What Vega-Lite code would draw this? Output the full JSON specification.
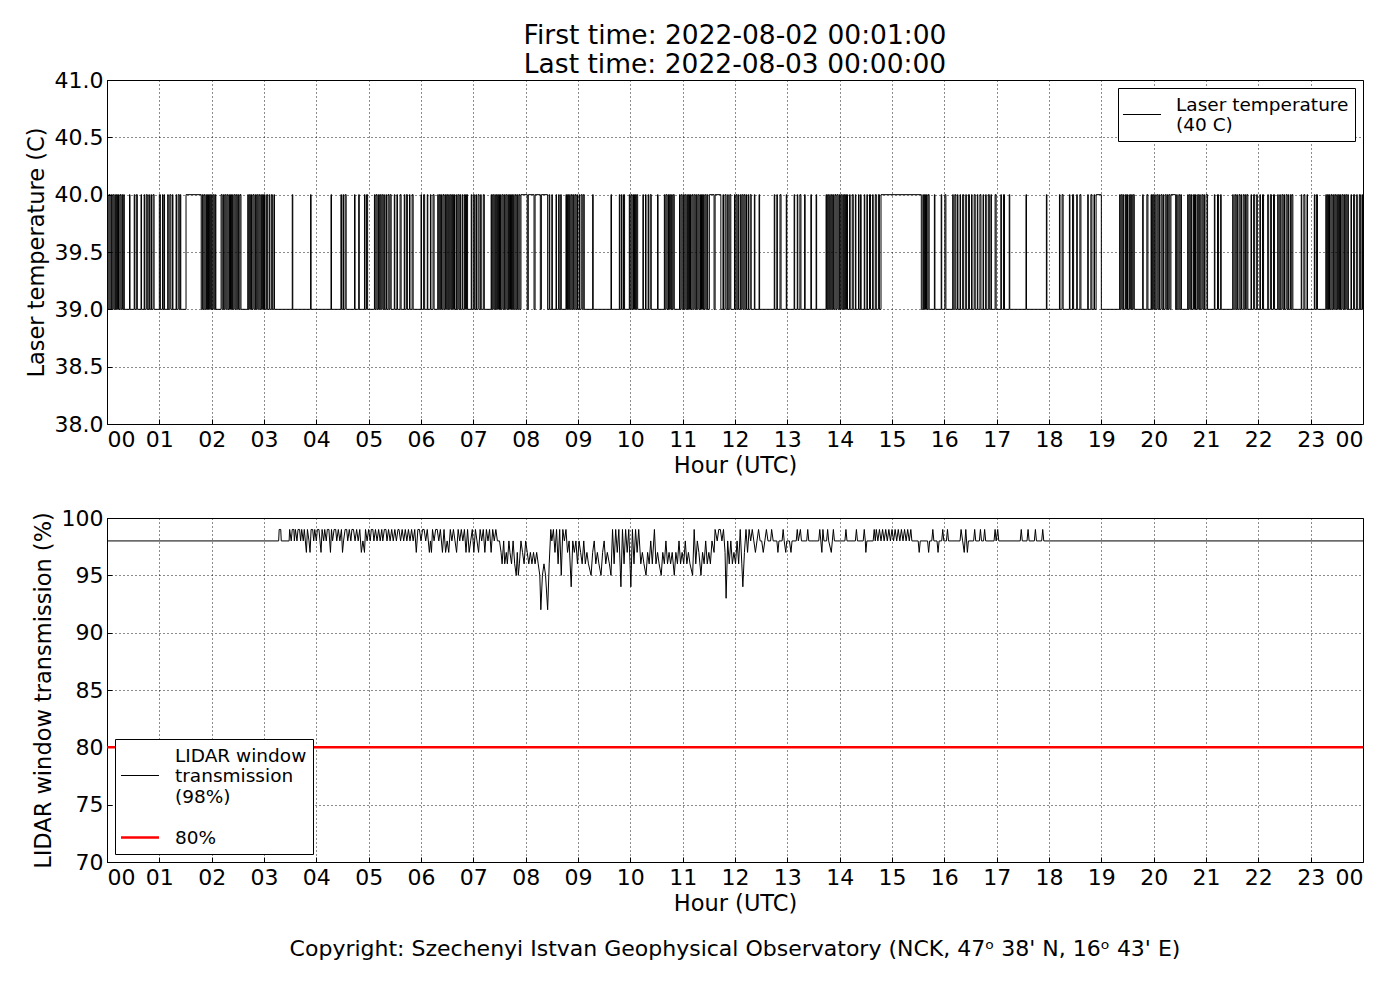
{
  "$schema": "https://vega.github.io/schema/vega-lite/v6.json",
  "background": "white",
  "padding": {"left": 24, "top": 22, "right": 38, "bottom": 20},
  "spacing": 29,
  "resolve": {
    "scale": {"color": "independent", "strokeWidth": "independent"},
    "legend": {"color": "independent", "strokeWidth": "independent"}
  },
  "config": {
    "font": "DejaVu Sans",
    "view": {"stroke": "black", "strokeWidth": 1},
    "axis": {
      "labelFont": "DejaVu Sans", "labelFontSize": 22, "labelColor": "black",
      "titleFont": "DejaVu Sans", "titleFontSize": 22.5, "titleFontWeight": "normal", "titleColor": "black",
      "domain": false, "grid": true, "gridColor": "black", "gridDash": [1, 3], "gridWidth": 1, "gridOpacity": 0.9,
      "tickColor": "black", "tickSize": -5
    },
    "axisX": {"labelPadding": 10},
    "axisY": {"labelPadding": 9},
    "legend": {
      "labelFont": "DejaVu Sans", "labelFontSize": 18.5, "labelColor": "black", "labelLimit": 0,
      "strokeColor": "black", "fillColor": "white", "padding": 6, "cornerRadius": 0,
      "symbolSize": 400, "symbolStrokeWidth": 1, "symbolOffset": 7.5, "labelOffset": 23.5,
      "offset": 8
    }
  },
  "datasets": {
    "t": [
      {"h":0,"v":39},
      {"h":0.01,"v":40},{"h":0.02,"v":39},{"h":0.04,"v":40},{"h":0.06,"v":39},{"h":0.08,"v":40},{"h":0.09,"v":39},{"h":0.11,"v":40},{"h":0.13,"v":39},{"h":0.15,"v":40},{"h":0.16,"v":39},{"h":0.18,"v":40},{"h":0.2,"v":39},{"h":0.22,"v":40},{"h":0.23,"v":39},{"h":0.25,"v":40},{"h":0.27,"v":39},{"h":0.29,"v":40},{"h":0.3,"v":39},{"h":0.32,"v":40},{"h":0.33,"v":39},
      {"h":0.43,"v":40},{"h":0.44,"v":39},{"h":0.52,"v":40},{"h":0.53,"v":39},{"h":0.56,"v":40},{"h":0.58,"v":39},{"h":0.65,"v":40},{"h":0.66,"v":39},{"h":0.71,"v":40},{"h":0.72,"v":39},{"h":0.75,"v":40},{"h":0.77,"v":39},{"h":0.8,"v":40},{"h":0.81,"v":39},{"h":0.84,"v":40},{"h":0.85,"v":39},{"h":0.88,"v":40},{"h":0.9,"v":39},
      {"h":1.0,"v":40},{"h":1.02,"v":39},{"h":1.06,"v":40},{"h":1.07,"v":39},{"h":1.09,"v":40},{"h":1.1,"v":39},{"h":1.16,"v":40},{"h":1.17,"v":39},{"h":1.2,"v":40},{"h":1.22,"v":39},{"h":1.25,"v":40},{"h":1.26,"v":39},{"h":1.32,"v":40},{"h":1.33,"v":39},{"h":1.36,"v":40},{"h":1.38,"v":39},{"h":1.4,"v":40},{"h":1.41,"v":39},
      {"h":1.51,"v":40},{"h":1.8,"v":39},
      {"h":1.82,"v":40},{"h":1.83,"v":39},{"h":1.85,"v":40},{"h":1.87,"v":39},{"h":1.89,"v":40},{"h":1.9,"v":39},{"h":1.92,"v":40},{"h":1.94,"v":39},{"h":1.96,"v":40},{"h":1.98,"v":39},{"h":2.0,"v":40},{"h":2.01,"v":39},{"h":2.03,"v":40},{"h":2.05,"v":39},{"h":2.07,"v":40},{"h":2.08,"v":39},
      {"h":2.18,"v":40},{"h":2.2,"v":39},{"h":2.22,"v":40},{"h":2.23,"v":39},{"h":2.25,"v":40},{"h":2.27,"v":39},{"h":2.29,"v":40},{"h":2.31,"v":39},{"h":2.33,"v":40},{"h":2.34,"v":39},{"h":2.36,"v":40},{"h":2.38,"v":39},{"h":2.4,"v":40},{"h":2.41,"v":39},{"h":2.43,"v":40},{"h":2.45,"v":39},{"h":2.47,"v":40},{"h":2.49,"v":39},{"h":2.51,"v":40},{"h":2.52,"v":39},{"h":2.54,"v":40},{"h":2.56,"v":39},
      {"h":2.69,"v":40},{"h":2.7,"v":39},{"h":2.72,"v":40},{"h":2.74,"v":39},{"h":2.76,"v":40},{"h":2.77,"v":39},{"h":2.79,"v":40},{"h":2.81,"v":39},{"h":2.83,"v":40},{"h":2.84,"v":39},{"h":2.86,"v":40},{"h":2.88,"v":39},{"h":2.9,"v":40},{"h":2.92,"v":39},{"h":2.94,"v":40},{"h":2.95,"v":39},{"h":2.97,"v":40},{"h":2.99,"v":39},{"h":3.01,"v":40},{"h":3.02,"v":39},{"h":3.05,"v":40},{"h":3.07,"v":39},{"h":3.1,"v":40},{"h":3.11,"v":39},{"h":3.14,"v":40},{"h":3.16,"v":39},{"h":3.19,"v":40},{"h":3.2,"v":39},
      {"h":3.54,"v":40},{"h":3.55,"v":39},{"h":3.89,"v":40},{"h":3.9,"v":39},{"h":4.28,"v":40},{"h":4.29,"v":39},{"h":4.47,"v":40},{"h":4.48,"v":39},{"h":4.51,"v":40},{"h":4.52,"v":39},{"h":4.55,"v":40},{"h":4.57,"v":39},{"h":4.73,"v":40},{"h":4.74,"v":39},{"h":4.81,"v":40},{"h":4.82,"v":39},{"h":4.92,"v":40},{"h":4.93,"v":39},{"h":4.96,"v":40},{"h":4.98,"v":39},
      {"h":5.11,"v":40},{"h":5.12,"v":39},{"h":5.14,"v":40},{"h":5.16,"v":39},{"h":5.18,"v":40},{"h":5.19,"v":39},{"h":5.21,"v":40},{"h":5.23,"v":39},{"h":5.25,"v":40},{"h":5.27,"v":39},{"h":5.29,"v":40},{"h":5.3,"v":39},{"h":5.33,"v":40},{"h":5.34,"v":39},{"h":5.37,"v":40},{"h":5.39,"v":39},{"h":5.41,"v":40},{"h":5.43,"v":39},
      {"h":5.49,"v":40},{"h":5.5,"v":39},{"h":5.54,"v":40},{"h":5.55,"v":39},{"h":5.6,"v":40},{"h":5.62,"v":39},{"h":5.68,"v":40},{"h":5.69,"v":39},{"h":5.72,"v":40},{"h":5.74,"v":39},{"h":5.78,"v":40},{"h":5.79,"v":39},{"h":5.83,"v":40},{"h":5.85,"v":39},
      {"h":6.0,"v":40},{"h":6.01,"v":39},{"h":6.05,"v":40},{"h":6.07,"v":39},{"h":6.12,"v":40},{"h":6.13,"v":39},{"h":6.18,"v":40},{"h":6.19,"v":39},{"h":6.23,"v":40},{"h":6.25,"v":39},
      {"h":6.32,"v":40},{"h":6.33,"v":39},{"h":6.35,"v":40},{"h":6.37,"v":39},{"h":6.39,"v":40},{"h":6.4,"v":39},{"h":6.42,"v":40},{"h":6.44,"v":39},{"h":6.46,"v":40},{"h":6.47,"v":39},{"h":6.49,"v":40},{"h":6.51,"v":39},{"h":6.53,"v":40},{"h":6.54,"v":39},{"h":6.56,"v":40},{"h":6.58,"v":39},{"h":6.6,"v":40},{"h":6.62,"v":39},{"h":6.64,"v":40},{"h":6.65,"v":39},{"h":6.68,"v":40},{"h":6.69,"v":39},{"h":6.71,"v":40},{"h":6.73,"v":39},{"h":6.75,"v":40},{"h":6.76,"v":39},{"h":6.79,"v":40},{"h":6.8,"v":39},{"h":6.83,"v":40},{"h":6.85,"v":39},{"h":6.87,"v":40},{"h":6.89,"v":39},
      {"h":6.96,"v":40},{"h":6.97,"v":39},{"h":7.0,"v":40},{"h":7.02,"v":39},{"h":7.05,"v":40},{"h":7.06,"v":39},{"h":7.09,"v":40},{"h":7.11,"v":39},{"h":7.14,"v":40},{"h":7.15,"v":39},{"h":7.19,"v":40},{"h":7.21,"v":39},
      {"h":7.34,"v":40},{"h":7.35,"v":39},{"h":7.37,"v":40},{"h":7.39,"v":39},{"h":7.41,"v":40},{"h":7.42,"v":39},{"h":7.44,"v":40},{"h":7.46,"v":39},{"h":7.48,"v":40},{"h":7.5,"v":39},{"h":7.52,"v":40},{"h":7.53,"v":39},{"h":7.55,"v":40},{"h":7.57,"v":39},{"h":7.59,"v":40},{"h":7.6,"v":39},{"h":7.62,"v":40},{"h":7.64,"v":39},{"h":7.66,"v":40},{"h":7.67,"v":39},{"h":7.69,"v":40},{"h":7.71,"v":39},{"h":7.73,"v":40},{"h":7.75,"v":39},{"h":7.77,"v":40},{"h":7.78,"v":39},{"h":7.8,"v":40},{"h":7.82,"v":39},{"h":7.84,"v":40},{"h":7.85,"v":39},{"h":7.87,"v":40},{"h":7.89,"v":39},
      {"h":7.91,"v":40},{"h":8.03,"v":39},{"h":8.05,"v":40},{"h":8.16,"v":39},{"h":8.18,"v":40},{"h":8.28,"v":39},{"h":8.3,"v":40},{"h":8.42,"v":39},{"h":8.45,"v":40},{"h":8.46,"v":39},{"h":8.5,"v":40},{"h":8.51,"v":39},{"h":8.58,"v":40},{"h":8.59,"v":39},{"h":8.63,"v":40},{"h":8.64,"v":39},{"h":8.67,"v":40},{"h":8.68,"v":39},
      {"h":8.77,"v":40},{"h":8.78,"v":39},{"h":8.8,"v":40},{"h":8.82,"v":39},{"h":8.84,"v":40},{"h":8.85,"v":39},{"h":8.87,"v":40},{"h":8.89,"v":39},{"h":8.91,"v":40},{"h":8.92,"v":39},{"h":8.94,"v":40},{"h":8.96,"v":39},{"h":8.98,"v":40},{"h":8.99,"v":39},{"h":9.02,"v":40},{"h":9.03,"v":39},{"h":9.06,"v":40},{"h":9.08,"v":39},{"h":9.1,"v":40},{"h":9.12,"v":39},
      {"h":9.28,"v":40},{"h":9.29,"v":39},{"h":9.63,"v":40},{"h":9.64,"v":39},{"h":9.79,"v":40},{"h":9.8,"v":39},{"h":9.83,"v":40},{"h":9.84,"v":39},{"h":9.87,"v":40},{"h":9.89,"v":39},
      {"h":9.98,"v":40},{"h":9.99,"v":39},{"h":10.01,"v":40},{"h":10.03,"v":39},{"h":10.05,"v":40},{"h":10.06,"v":39},{"h":10.08,"v":40},{"h":10.1,"v":39},{"h":10.12,"v":40},{"h":10.14,"v":39},
      {"h":10.24,"v":40},{"h":10.25,"v":39},{"h":10.29,"v":40},{"h":10.3,"v":39},{"h":10.34,"v":40},{"h":10.35,"v":39},{"h":10.38,"v":40},{"h":10.4,"v":39},{"h":10.52,"v":40},{"h":10.53,"v":39},
      {"h":10.65,"v":40},{"h":10.66,"v":39},{"h":10.68,"v":40},{"h":10.7,"v":39},{"h":10.72,"v":40},{"h":10.73,"v":39},{"h":10.75,"v":40},{"h":10.77,"v":39},{"h":10.79,"v":40},{"h":10.8,"v":39},{"h":10.82,"v":40},{"h":10.84,"v":39},
      {"h":10.94,"v":40},{"h":10.95,"v":39},{"h":10.97,"v":40},{"h":10.99,"v":39},{"h":11.01,"v":40},{"h":11.02,"v":39},{"h":11.04,"v":40},{"h":11.06,"v":39},{"h":11.08,"v":40},{"h":11.09,"v":39},{"h":11.11,"v":40},{"h":11.13,"v":39},{"h":11.15,"v":40},{"h":11.16,"v":39},{"h":11.18,"v":40},{"h":11.2,"v":39},{"h":11.22,"v":40},{"h":11.24,"v":39},{"h":11.26,"v":40},{"h":11.27,"v":39},{"h":11.29,"v":40},{"h":11.31,"v":39},{"h":11.33,"v":40},{"h":11.34,"v":39},{"h":11.36,"v":40},{"h":11.38,"v":39},{"h":11.4,"v":40},{"h":11.41,"v":39},{"h":11.43,"v":40},{"h":11.45,"v":39},{"h":11.47,"v":40},{"h":11.48,"v":39},
      {"h":11.51,"v":40},{"h":11.6,"v":39},{"h":11.62,"v":40},{"h":11.73,"v":39},
      {"h":11.77,"v":40},{"h":11.78,"v":39},{"h":11.81,"v":40},{"h":11.83,"v":39},{"h":11.86,"v":40},{"h":11.87,"v":39},{"h":11.9,"v":40},{"h":11.92,"v":39},
      {"h":11.99,"v":40},{"h":12.0,"v":39},{"h":12.02,"v":40},{"h":12.04,"v":39},{"h":12.06,"v":40},{"h":12.07,"v":39},{"h":12.1,"v":40},{"h":12.11,"v":39},{"h":12.13,"v":40},{"h":12.15,"v":39},{"h":12.17,"v":40},{"h":12.19,"v":39},{"h":12.21,"v":40},{"h":12.22,"v":39},{"h":12.25,"v":40},{"h":12.26,"v":39},{"h":12.29,"v":40},{"h":12.31,"v":39},
      {"h":12.37,"v":40},{"h":12.38,"v":39},{"h":12.46,"v":40},{"h":12.47,"v":39},{"h":12.75,"v":40},{"h":12.76,"v":39},{"h":12.8,"v":40},{"h":12.81,"v":39},{"h":12.86,"v":40},{"h":12.88,"v":39},{"h":12.98,"v":40},{"h":12.99,"v":39},
      {"h":13.13,"v":40},{"h":13.14,"v":39},{"h":13.19,"v":40},{"h":13.2,"v":39},{"h":13.24,"v":40},{"h":13.26,"v":39},{"h":13.33,"v":40},{"h":13.34,"v":39},{"h":13.45,"v":40},{"h":13.46,"v":39},{"h":13.55,"v":40},{"h":13.56,"v":39},
      {"h":13.74,"v":40},{"h":13.75,"v":39},{"h":13.77,"v":40},{"h":13.79,"v":39},{"h":13.81,"v":40},{"h":13.82,"v":39},{"h":13.84,"v":40},{"h":13.86,"v":39},{"h":13.88,"v":40},{"h":13.89,"v":39},{"h":13.91,"v":40},{"h":13.93,"v":39},{"h":13.95,"v":40},{"h":13.97,"v":39},{"h":13.99,"v":40},{"h":14.0,"v":39},{"h":14.02,"v":40},{"h":14.04,"v":39},{"h":14.06,"v":40},{"h":14.07,"v":39},{"h":14.09,"v":40},{"h":14.11,"v":39},{"h":14.13,"v":40},{"h":14.15,"v":39},
      {"h":14.19,"v":40},{"h":14.2,"v":39},{"h":14.24,"v":40},{"h":14.26,"v":39},{"h":14.3,"v":40},{"h":14.31,"v":39},{"h":14.36,"v":40},{"h":14.37,"v":39},{"h":14.4,"v":40},{"h":14.41,"v":39},
      {"h":14.47,"v":40},{"h":14.48,"v":39},{"h":14.52,"v":40},{"h":14.53,"v":39},{"h":14.57,"v":40},{"h":14.59,"v":39},{"h":14.63,"v":40},{"h":14.64,"v":39},{"h":14.68,"v":40},{"h":14.7,"v":39},{"h":14.74,"v":40},{"h":14.76,"v":39},
      {"h":14.79,"v":40},{"h":15.56,"v":39},
      {"h":15.59,"v":40},{"h":15.6,"v":39},{"h":15.62,"v":40},{"h":15.64,"v":39},{"h":15.66,"v":40},{"h":15.67,"v":39},{"h":15.69,"v":40},{"h":15.71,"v":39},{"h":15.81,"v":40},{"h":15.82,"v":39},{"h":15.94,"v":40},{"h":15.95,"v":39},{"h":16.01,"v":40},{"h":16.03,"v":39},
      {"h":16.16,"v":40},{"h":16.17,"v":39},{"h":16.2,"v":40},{"h":16.22,"v":39},{"h":16.25,"v":40},{"h":16.26,"v":39},{"h":16.3,"v":40},{"h":16.31,"v":39},{"h":16.35,"v":40},{"h":16.37,"v":39},{"h":16.41,"v":40},{"h":16.42,"v":39},{"h":16.46,"v":40},{"h":16.48,"v":39},{"h":16.52,"v":40},{"h":16.53,"v":39},{"h":16.57,"v":40},{"h":16.59,"v":39},{"h":16.63,"v":40},{"h":16.64,"v":39},{"h":16.68,"v":40},{"h":16.7,"v":39},{"h":16.74,"v":40},{"h":16.75,"v":39},{"h":16.79,"v":40},{"h":16.8,"v":39},{"h":16.84,"v":40},{"h":16.86,"v":39},
      {"h":16.89,"v":40},{"h":16.9,"v":39},{"h":16.97,"v":40},{"h":16.99,"v":39},{"h":17.08,"v":40},{"h":17.09,"v":39},{"h":17.13,"v":40},{"h":17.15,"v":39},{"h":17.24,"v":40},{"h":17.25,"v":39},{"h":17.56,"v":40},{"h":17.57,"v":39},{"h":17.95,"v":40},{"h":17.96,"v":39},
      {"h":18.2,"v":40},{"h":18.21,"v":39},{"h":18.25,"v":40},{"h":18.27,"v":39},{"h":18.39,"v":40},{"h":18.4,"v":39},{"h":18.45,"v":40},{"h":18.47,"v":39},{"h":18.53,"v":40},{"h":18.54,"v":39},{"h":18.59,"v":40},{"h":18.61,"v":39},
      {"h":18.74,"v":40},{"h":18.75,"v":39},{"h":18.8,"v":40},{"h":18.82,"v":39},{"h":18.86,"v":40},{"h":18.87,"v":39},{"h":18.9,"v":40},{"h":19.0,"v":39},
      {"h":19.35,"v":40},{"h":19.36,"v":39},{"h":19.38,"v":40},{"h":19.4,"v":39},{"h":19.42,"v":40},{"h":19.43,"v":39},{"h":19.46,"v":40},{"h":19.48,"v":39},{"h":19.5,"v":40},{"h":19.51,"v":39},{"h":19.54,"v":40},{"h":19.56,"v":39},{"h":19.58,"v":40},{"h":19.59,"v":39},{"h":19.61,"v":40},{"h":19.63,"v":39},
      {"h":19.79,"v":40},{"h":19.8,"v":39},{"h":19.87,"v":40},{"h":19.89,"v":39},
      {"h":19.95,"v":40},{"h":19.96,"v":39},{"h":19.98,"v":40},{"h":20.0,"v":39},{"h":20.02,"v":40},{"h":20.03,"v":39},{"h":20.06,"v":40},{"h":20.08,"v":39},{"h":20.1,"v":40},{"h":20.11,"v":39},{"h":20.14,"v":40},{"h":20.16,"v":39},{"h":20.18,"v":40},{"h":20.19,"v":39},{"h":20.22,"v":40},{"h":20.24,"v":39},{"h":20.26,"v":40},{"h":20.27,"v":39},{"h":20.29,"v":40},{"h":20.31,"v":39},{"h":20.33,"v":40},{"h":20.42,"v":39},{"h":20.44,"v":40},{"h":20.45,"v":39},{"h":20.48,"v":40},{"h":20.5,"v":39},{"h":20.52,"v":40},{"h":20.53,"v":39},
      {"h":20.65,"v":40},{"h":20.66,"v":39},{"h":20.68,"v":40},{"h":20.7,"v":39},{"h":20.72,"v":40},{"h":20.73,"v":39},{"h":20.76,"v":40},{"h":20.78,"v":39},{"h":20.8,"v":40},{"h":20.81,"v":39},{"h":20.84,"v":40},{"h":20.86,"v":39},{"h":20.88,"v":40},{"h":20.89,"v":39},{"h":20.92,"v":40},{"h":20.94,"v":39},{"h":20.96,"v":40},{"h":20.97,"v":39},{"h":21.0,"v":40},{"h":21.03,"v":39},
      {"h":21.16,"v":40},{"h":21.17,"v":39},{"h":21.22,"v":40},{"h":21.24,"v":39},{"h":21.28,"v":40},{"h":21.29,"v":39},
      {"h":21.51,"v":40},{"h":21.52,"v":39},{"h":21.55,"v":40},{"h":21.57,"v":39},{"h":21.59,"v":40},{"h":21.6,"v":39},{"h":21.63,"v":40},{"h":21.65,"v":39},{"h":21.67,"v":40},{"h":21.68,"v":39},{"h":21.71,"v":40},{"h":21.73,"v":39},{"h":21.75,"v":40},{"h":21.76,"v":39},{"h":21.78,"v":40},{"h":21.8,"v":39},
      {"h":21.86,"v":40},{"h":21.87,"v":39},{"h":21.91,"v":40},{"h":21.93,"v":39},{"h":21.97,"v":40},{"h":21.98,"v":39},{"h":22.03,"v":40},{"h":22.04,"v":39},{"h":22.08,"v":40},{"h":22.1,"v":39},
      {"h":22.18,"v":40},{"h":22.19,"v":39},{"h":22.23,"v":40},{"h":22.25,"v":39},{"h":22.29,"v":40},{"h":22.31,"v":39},
      {"h":22.37,"v":40},{"h":22.38,"v":39},{"h":22.41,"v":40},{"h":22.42,"v":39},{"h":22.45,"v":40},{"h":22.47,"v":39},{"h":22.49,"v":40},{"h":22.5,"v":39},{"h":22.53,"v":40},{"h":22.55,"v":39},{"h":22.57,"v":40},{"h":22.58,"v":39},{"h":22.61,"v":40},{"h":22.62,"v":39},{"h":22.64,"v":40},{"h":22.66,"v":39},
      {"h":22.82,"v":40},{"h":22.83,"v":39},{"h":22.87,"v":40},{"h":22.89,"v":39},{"h":22.93,"v":40},{"h":22.94,"v":39},{"h":23.07,"v":40},{"h":23.08,"v":39},{"h":23.11,"v":40},{"h":23.13,"v":39},
      {"h":23.29,"v":40},{"h":23.3,"v":39},{"h":23.32,"v":40},{"h":23.34,"v":39},{"h":23.36,"v":40},{"h":23.37,"v":39},{"h":23.39,"v":40},{"h":23.41,"v":39},{"h":23.43,"v":40},{"h":23.44,"v":39},{"h":23.46,"v":40},{"h":23.48,"v":39},{"h":23.5,"v":40},{"h":23.51,"v":39},{"h":23.53,"v":40},{"h":23.55,"v":39},{"h":23.57,"v":40},{"h":23.58,"v":39},{"h":23.6,"v":40},{"h":23.62,"v":39},{"h":23.64,"v":40},{"h":23.65,"v":39},{"h":23.67,"v":40},{"h":23.69,"v":39},{"h":23.71,"v":40},{"h":23.72,"v":39},
      {"h":23.77,"v":40},{"h":23.78,"v":39},{"h":23.82,"v":40},{"h":23.84,"v":39},{"h":23.88,"v":40},{"h":23.89,"v":39},{"h":23.93,"v":40},{"h":23.95,"v":39},{"h":23.98,"v":40},{"h":23.99,"v":39},
      {"h":24,"v":39}
    ],
    "l": [
      {"h":0,"v":98},{"h":3.28,"v":98},{"h":3.29,"v":99},{"h":3.32,"v":99},{"h":3.33,"v":98},{"h":3.48,"v":98},{"h":3.49,"v":99},{"h":3.52,"v":98},{"h":3.54,"v":99},{"h":3.57,"v":99},{"h":3.58,"v":98},{"h":3.6,"v":99},{"h":3.63,"v":98},{"h":3.65,"v":99},{"h":3.68,"v":99},{"h":3.7,"v":98},{"h":3.72,"v":99},{"h":3.75,"v":98},{"h":3.77,"v":99},{"h":3.79,"v":98},{"h":3.81,"v":97},{"h":3.83,"v":99},{"h":3.86,"v":98},{"h":3.88,"v":97},{"h":3.9,"v":99},{"h":3.93,"v":99},{"h":3.95,"v":98},{"h":3.97,"v":99},
      {"h":4.0,"v":98},{"h":4.02,"v":99},{"h":4.05,"v":99},{"h":4.07,"v":98},{"h":4.09,"v":97},{"h":4.11,"v":99},{"h":4.14,"v":98},{"h":4.16,"v":99},{"h":4.19,"v":98},{"h":4.21,"v":99},{"h":4.24,"v":99},{"h":4.27,"v":97},{"h":4.29,"v":99},{"h":4.31,"v":98},{"h":4.34,"v":99},{"h":4.37,"v":99},{"h":4.39,"v":98},{"h":4.42,"v":99},{"h":4.45,"v":98},{"h":4.48,"v":99},{"h":4.5,"v":97},{"h":4.52,"v":98},{"h":4.55,"v":99},{"h":4.58,"v":99},{"h":4.6,"v":98},{"h":4.63,"v":99},{"h":4.66,"v":98},{"h":4.68,"v":99},{"h":4.71,"v":99},{"h":4.74,"v":98},{"h":4.77,"v":99},{"h":4.8,"v":98},{"h":4.83,"v":99},{"h":4.86,"v":97},{"h":4.89,"v":98},{"h":4.92,"v":97},{"h":4.94,"v":99},{"h":4.97,"v":98},
      {"h":5.0,"v":99},{"h":5.03,"v":98},{"h":5.05,"v":99},{"h":5.08,"v":99},{"h":5.1,"v":98},{"h":5.13,"v":99},{"h":5.16,"v":98},{"h":5.19,"v":99},{"h":5.22,"v":98},{"h":5.25,"v":99},{"h":5.27,"v":98},{"h":5.3,"v":99},{"h":5.33,"v":99},{"h":5.35,"v":98},{"h":5.38,"v":99},{"h":5.41,"v":98},{"h":5.44,"v":99},{"h":5.47,"v":98},{"h":5.5,"v":99},{"h":5.53,"v":98},{"h":5.56,"v":99},{"h":5.58,"v":99},{"h":5.61,"v":98},{"h":5.64,"v":99},{"h":5.67,"v":98},{"h":5.7,"v":99},{"h":5.73,"v":98},{"h":5.76,"v":99},{"h":5.79,"v":98},{"h":5.82,"v":99},{"h":5.85,"v":98},{"h":5.88,"v":99},{"h":5.91,"v":97},{"h":5.94,"v":99},{"h":5.97,"v":99},
      {"h":6.0,"v":98},{"h":6.03,"v":99},{"h":6.06,"v":99},{"h":6.09,"v":98},{"h":6.12,"v":99},{"h":6.16,"v":97},{"h":6.18,"v":98},{"h":6.2,"v":97},{"h":6.22,"v":99},{"h":6.25,"v":98},{"h":6.28,"v":99},{"h":6.31,"v":99},{"h":6.34,"v":98},{"h":6.37,"v":99},{"h":6.41,"v":97},{"h":6.44,"v":99},{"h":6.47,"v":97},{"h":6.5,"v":98},{"h":6.53,"v":97},{"h":6.56,"v":99},{"h":6.59,"v":98},{"h":6.62,"v":99},{"h":6.65,"v":98},{"h":6.68,"v":97},{"h":6.71,"v":99},{"h":6.74,"v":98},{"h":6.77,"v":99},{"h":6.8,"v":98},{"h":6.83,"v":99},{"h":6.86,"v":97},{"h":6.89,"v":99},{"h":6.92,"v":97},{"h":6.95,"v":98},{"h":6.98,"v":99},
      {"h":7.01,"v":97},{"h":7.04,"v":99},{"h":7.07,"v":98},{"h":7.1,"v":97},{"h":7.13,"v":99},{"h":7.16,"v":98},{"h":7.19,"v":99},{"h":7.22,"v":97},{"h":7.25,"v":99},{"h":7.28,"v":98},{"h":7.31,"v":99},{"h":7.34,"v":97},{"h":7.37,"v":99},{"h":7.4,"v":98},{"h":7.43,"v":99},{"h":7.46,"v":98},{"h":7.5,"v":98},
      {"h":7.53,"v":97},{"h":7.55,"v":96},{"h":7.58,"v":98},{"h":7.6,"v":96},{"h":7.63,"v":97},{"h":7.65,"v":96},{"h":7.68,"v":98},{"h":7.7,"v":97},{"h":7.73,"v":96},{"h":7.76,"v":98},{"h":7.79,"v":96},{"h":7.82,"v":95},{"h":7.84,"v":97},{"h":7.86,"v":95},{"h":7.88,"v":96},{"h":7.91,"v":98},{"h":7.94,"v":97},{"h":7.97,"v":96},
      {"h":8.0,"v":98},{"h":8.03,"v":97},{"h":8.06,"v":96},{"h":8.09,"v":97},{"h":8.12,"v":96},{"h":8.15,"v":97},{"h":8.18,"v":96},{"h":8.21,"v":97},{"h":8.24,"v":96},{"h":8.27,"v":95},{"h":8.29,"v":92},{"h":8.32,"v":95},{"h":8.35,"v":96},{"h":8.38,"v":95},{"h":8.42,"v":92},{"h":8.45,"v":96},{"h":8.48,"v":99},{"h":8.5,"v":98},{"h":8.53,"v":99},{"h":8.56,"v":97},{"h":8.59,"v":99},{"h":8.62,"v":96},{"h":8.65,"v":99},{"h":8.68,"v":95},{"h":8.71,"v":99},{"h":8.74,"v":98},{"h":8.77,"v":99},{"h":8.8,"v":97},{"h":8.83,"v":98},{"h":8.87,"v":94},{"h":8.9,"v":98},{"h":8.93,"v":97},{"h":8.96,"v":98},{"h":8.99,"v":96},
      {"h":9.02,"v":98},{"h":9.05,"v":97},{"h":9.08,"v":96},{"h":9.11,"v":98},{"h":9.14,"v":96},{"h":9.17,"v":97},{"h":9.2,"v":96},{"h":9.25,"v":95},{"h":9.28,"v":97},{"h":9.31,"v":98},{"h":9.34,"v":96},{"h":9.37,"v":97},{"h":9.4,"v":96},{"h":9.44,"v":95},{"h":9.47,"v":97},{"h":9.5,"v":98},{"h":9.53,"v":96},{"h":9.56,"v":97},{"h":9.6,"v":96},{"h":9.63,"v":95},{"h":9.66,"v":99},{"h":9.69,"v":96},{"h":9.72,"v":99},{"h":9.75,"v":97},{"h":9.78,"v":99},{"h":9.82,"v":94},{"h":9.85,"v":99},{"h":9.88,"v":96},{"h":9.91,"v":99},{"h":9.94,"v":97},{"h":9.97,"v":99},
      {"h":10.01,"v":94},{"h":10.04,"v":99},{"h":10.07,"v":96},{"h":10.1,"v":99},{"h":10.13,"v":97},{"h":10.16,"v":99},{"h":10.2,"v":96},{"h":10.23,"v":97},{"h":10.26,"v":96},{"h":10.3,"v":95},{"h":10.33,"v":97},{"h":10.36,"v":96},{"h":10.39,"v":98},{"h":10.42,"v":96},{"h":10.46,"v":99},{"h":10.49,"v":96},{"h":10.52,"v":97},{"h":10.55,"v":96},{"h":10.59,"v":95},{"h":10.62,"v":97},{"h":10.65,"v":96},{"h":10.68,"v":98},{"h":10.71,"v":96},{"h":10.74,"v":97},{"h":10.77,"v":96},{"h":10.8,"v":97},{"h":10.84,"v":95},{"h":10.87,"v":97},{"h":10.9,"v":96},{"h":10.93,"v":98},{"h":10.96,"v":96},{"h":10.99,"v":97},
      {"h":11.02,"v":96},{"h":11.05,"v":98},{"h":11.08,"v":96},{"h":11.11,"v":97},{"h":11.14,"v":96},{"h":11.19,"v":95},{"h":11.22,"v":99},{"h":11.25,"v":96},{"h":11.28,"v":98},{"h":11.31,"v":97},{"h":11.35,"v":95},{"h":11.38,"v":97},{"h":11.41,"v":96},{"h":11.44,"v":98},{"h":11.47,"v":96},{"h":11.5,"v":97},{"h":11.53,"v":96},{"h":11.56,"v":98},{"h":11.6,"v":97},{"h":11.62,"v":99},{"h":11.66,"v":98},{"h":11.69,"v":99},{"h":11.72,"v":99},{"h":11.75,"v":98},{"h":11.78,"v":99},{"h":11.81,"v":97},{"h":11.83,"v":93},{"h":11.86,"v":98},{"h":11.89,"v":96},{"h":11.92,"v":98},{"h":11.95,"v":96},{"h":11.98,"v":97},
      {"h":12.01,"v":96},{"h":12.04,"v":98},{"h":12.07,"v":96},{"h":12.1,"v":99},{"h":12.13,"v":96},{"h":12.15,"v":94},{"h":12.18,"v":97},{"h":12.21,"v":99},{"h":12.24,"v":97},{"h":12.27,"v":99},{"h":12.3,"v":98},{"h":12.33,"v":99},{"h":12.36,"v":98},{"h":12.39,"v":97},{"h":12.42,"v":98},{"h":12.45,"v":99},{"h":12.48,"v":98},{"h":12.51,"v":98},{"h":12.54,"v":97},{"h":12.57,"v":98},{"h":12.6,"v":99},{"h":12.63,"v":98},{"h":12.68,"v":98},{"h":12.7,"v":99},{"h":12.73,"v":98},{"h":12.8,"v":98},{"h":12.82,"v":97},{"h":12.84,"v":98},{"h":12.9,"v":98},{"h":12.92,"v":99},{"h":12.94,"v":98},{"h":12.97,"v":97},{"h":12.99,"v":98},
      {"h":13.04,"v":98},{"h":13.07,"v":97},{"h":13.09,"v":98},{"h":13.17,"v":98},{"h":13.19,"v":99},{"h":13.21,"v":98},{"h":13.25,"v":99},{"h":13.27,"v":98},{"h":13.37,"v":98},{"h":13.39,"v":99},{"h":13.41,"v":98},{"h":13.6,"v":98},{"h":13.62,"v":99},{"h":13.64,"v":98},{"h":13.66,"v":97},{"h":13.68,"v":99},{"h":13.7,"v":98},{"h":13.75,"v":98},{"h":13.77,"v":99},{"h":13.79,"v":98},{"h":13.84,"v":97},{"h":13.86,"v":98},{"h":13.88,"v":99},{"h":13.9,"v":98},
      {"h":14.1,"v":98},{"h":14.12,"v":99},{"h":14.14,"v":98},{"h":14.3,"v":98},{"h":14.32,"v":99},{"h":14.34,"v":98},{"h":14.45,"v":98},{"h":14.47,"v":99},{"h":14.49,"v":98},{"h":14.5,"v":97},{"h":14.52,"v":98},{"h":14.64,"v":98},{"h":14.66,"v":99},{"h":14.68,"v":98},{"h":14.7,"v":99},{"h":14.73,"v":98},{"h":14.76,"v":99},{"h":14.79,"v":98},{"h":14.82,"v":99},{"h":14.85,"v":98},{"h":14.88,"v":99},{"h":14.91,"v":98},{"h":14.94,"v":99},{"h":14.97,"v":98},
      {"h":15.0,"v":99},{"h":15.03,"v":98},{"h":15.06,"v":99},{"h":15.09,"v":98},{"h":15.12,"v":99},{"h":15.15,"v":98},{"h":15.18,"v":99},{"h":15.21,"v":98},{"h":15.24,"v":99},{"h":15.27,"v":98},{"h":15.3,"v":99},{"h":15.33,"v":98},{"h":15.36,"v":99},{"h":15.38,"v":98},{"h":15.5,"v":98},{"h":15.52,"v":97},{"h":15.54,"v":98},{"h":15.68,"v":98},{"h":15.7,"v":97},{"h":15.72,"v":98},{"h":15.76,"v":98},{"h":15.78,"v":99},{"h":15.8,"v":98},{"h":15.86,"v":98},{"h":15.88,"v":97},{"h":15.9,"v":98},{"h":15.95,"v":98},{"h":15.97,"v":99},{"h":15.99,"v":98},
      {"h":16.04,"v":98},{"h":16.06,"v":99},{"h":16.08,"v":98},{"h":16.3,"v":98},{"h":16.32,"v":99},{"h":16.35,"v":98},{"h":16.38,"v":97},{"h":16.41,"v":99},{"h":16.44,"v":97},{"h":16.46,"v":98},{"h":16.56,"v":98},{"h":16.58,"v":99},{"h":16.6,"v":98},{"h":16.67,"v":98},{"h":16.69,"v":99},{"h":16.71,"v":98},{"h":16.75,"v":98},{"h":16.77,"v":99},{"h":16.79,"v":98},{"h":16.95,"v":98},{"h":16.97,"v":99},{"h":16.99,"v":98},
      {"h":17.02,"v":99},{"h":17.04,"v":98},{"h":17.45,"v":98},{"h":17.47,"v":99},{"h":17.49,"v":98},{"h":17.58,"v":98},{"h":17.6,"v":99},{"h":17.62,"v":98},{"h":17.72,"v":98},{"h":17.74,"v":99},{"h":17.76,"v":98},{"h":17.86,"v":98},{"h":17.88,"v":99},{"h":17.9,"v":98},
      {"h":24,"v":98}
    ],
    "r": [{"h":0,"v":80},{"h":24,"v":80}]
  },
  "vconcat": [
    {
      "width": 1256,
      "height": 344,
      "title": {"text": ["First time: 2022-08-02 00:01:00", "Last time: 2022-08-03 00:00:00"], "frame": "group", "anchor": "middle", "fontSize": 26.5, "fontWeight": "normal", "lineHeight": 29, "offset": -9, "color": "black"},
      "data": {"name": "t"},
      "mark": {"type": "line", "interpolate": "step-after", "strokeWidth": 1, "clip": true},
      "encoding": {
        "x": {"field": "h", "type": "quantitative", "scale": {"domain": [0, 24], "nice": false},
          "axis": {"title": "Hour (UTC)", "values": [0,1,2,3,4,5,6,7,8,9,10,11,12,13,14,15,16,17,18,19,20,21,22,23,24],
            "labelExpr": "datum.value == 24 ? '00' : (datum.value < 10 ? '0' + datum.value : '' + datum.value)", "titlePadding": 4}},
        "y": {"field": "v", "type": "quantitative", "scale": {"domain": [38, 41], "nice": false, "zero": false},
          "axis": {"title": "Laser temperature (C)", "values": [38,38.5,39,39.5,40,40.5,41], "format": ".1f", "titlePadding": 6}},
        "color": {"datum": "Laser temperature|(40 C)", "type": "nominal",
          "scale": {"domain": ["Laser temperature|(40 C)"], "range": ["black"]},
          "legend": {"title": null, "orient": "top-right", "symbolType": "M-1.9,1H1.9", "labelExpr": "split(datum.label, '|')"}}
      }
    },
    {
      "width": 1256,
      "height": 344,
      "title": {"text": "Copyright: Szechenyi Istvan Geophysical Observatory (NCK, 47ᵒ  38' N, 16ᵒ  43' E)", "orient": "bottom", "frame": "group", "anchor": "middle", "fontSize": 22, "fontWeight": "normal", "offset": 24, "color": "black"},
      "encoding": {
        "x": {"field": "h", "type": "quantitative", "scale": {"domain": [0, 24], "nice": false},
          "axis": {"title": "Hour (UTC)", "values": [0,1,2,3,4,5,6,7,8,9,10,11,12,13,14,15,16,17,18,19,20,21,22,23,24],
            "labelExpr": "datum.value == 24 ? '00' : (datum.value < 10 ? '0' + datum.value : '' + datum.value)", "titlePadding": 4}},
        "y": {"field": "v", "type": "quantitative", "scale": {"domain": [70, 100], "nice": false, "zero": false},
          "axis": {"title": "LIDAR window transmission (%)", "values": [70,75,80,85,90,95,100], "titlePadding": 6}}
      },
      "layer": [
        {
          "data": {"name": "l"},
          "mark": {"type": "line", "clip": true},
          "encoding": {
            "color": {"datum": "LIDAR window|transmission|(98%)", "type": "nominal",
              "scale": {"domain": ["LIDAR window|transmission|(98%)", "80%"], "range": ["black", "#ff0000"]},
              "legend": {"title": null, "orient": "bottom-left", "symbolType": "M-1.9,2H1.9", "rowPadding": -23,
                "labelExpr": "datum.label == '80%' ? ['', '80%'] : split(datum.label, '|')"}},
            "strokeWidth": {"datum": "LIDAR window|transmission|(98%)", "type": "nominal",
              "scale": {"domain": ["LIDAR window|transmission|(98%)", "80%"], "range": [1, 2.5]},
              "legend": {"title": null, "orient": "bottom-left", "symbolType": "M-1.9,2H1.9", "rowPadding": -23,
                "labelExpr": "datum.label == '80%' ? ['', '80%'] : split(datum.label, '|')"}}
          }
        },
        {
          "data": {"name": "r"},
          "mark": {"type": "line", "clip": true},
          "encoding": {
            "color": {"datum": "80%", "type": "nominal"},
            "strokeWidth": {"datum": "80%", "type": "nominal"}
          }
        }
      ]
    }
  ]
}
